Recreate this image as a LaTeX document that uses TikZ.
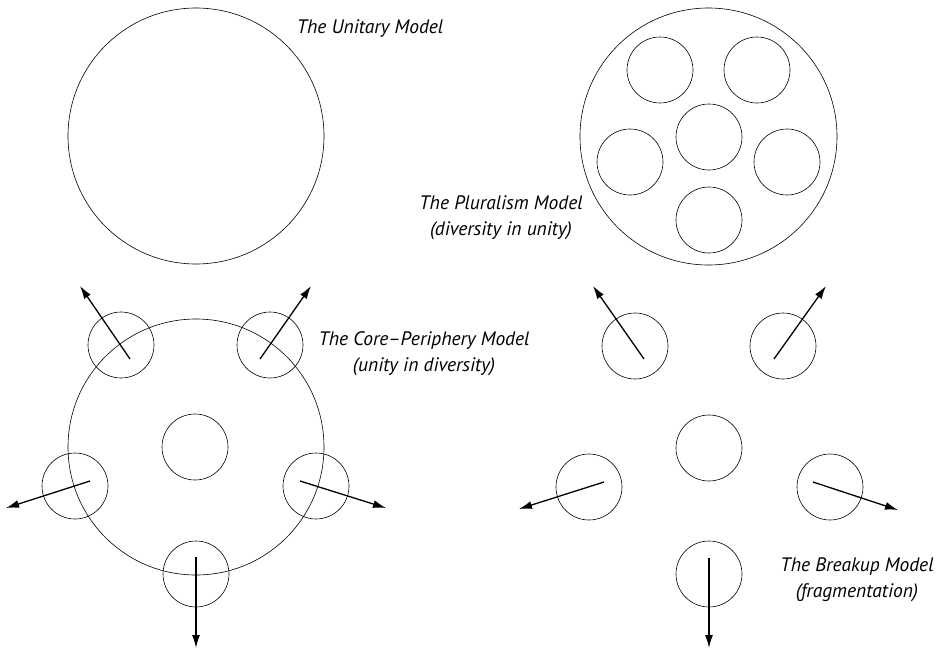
\documentclass[tikz,border=0pt]{standalone}
\usepackage{fontspec}
\setmainfont{PT Sans}
\usetikzlibrary{arrows.meta}
\tikzset{
  unit/.style={draw, line width=0.6pt, circle, inner sep=0pt, minimum size=66pt},
  big/.style={draw, line width=0.6pt, circle, inner sep=0pt, minimum size=#1},
  push/.style={line width=1.3pt, -{Latex[length=13pt,width=8pt]}},
  lbl/.style={font=\fontsize{19.5}{26}\selectfont\itshape, align=center}
}
\begin{document}
\begin{tikzpicture}[x=1pt,y=-1pt]
\useasboundingbox (0,0) rectangle (946,649);
% Unitary
\node[big=256pt] (uni) at (196,136) {};
\node[lbl] (unil) at (370,29) {The Unitary Model};
% Pluralism
\node[big=257pt] (plu) at (708.5,136.5) {};
\node[unit] (p1) at (660,70) {};
\node[unit] (p2) at (757,70) {};
\node[unit] (p3) at (709,137) {};
\node[unit] (p4) at (630,162) {};
\node[unit] (p5) at (787,162) {};
\node[unit] (p6) at (709,220) {};
\node[lbl] (plul) at (501,218) {The Pluralism Model\\(diversity in unity)};
% Core-periphery
\node[big=256pt] (core) at (196,447) {};
\node[unit] (c0) at (195,447) {};
\node[unit] (c1) at (121,345) {};
\node[unit] (c2) at (270,345) {};
\node[unit] (c3) at (75,486) {};
\node[unit] (c4) at (316,486) {};
\node[unit] (c5) at (196,574) {};
\coordinate (ca1) at (130,359); \coordinate (cb1) at (80,286);
\coordinate (ca2) at (260,359); \coordinate (cb2) at (311,286);
\coordinate (ca3) at (90,481);  \coordinate (cb3) at (6,508);
\coordinate (ca4) at (300,481); \coordinate (cb4) at (386,508);
\coordinate (ca5) at (196,557); \coordinate (cb5) at (196,648);
\foreach \i in {1,...,5} \draw[push] (ca\i) -- (cb\i);
\node[lbl] (corel) at (424,354) {The Core--Periphery Model\\(unity in diversity)};
% Breakup
\node[unit] (b0) at (709,448) {};
\node[unit] (b1) at (635,346) {};
\node[unit] (b2) at (783,346) {};
\node[unit] (b3) at (589,487) {};
\node[unit] (b4) at (830,487) {};
\node[unit] (b5) at (709,574) {};
\coordinate (ba1) at (644,359); \coordinate (bb1) at (593,286);
\coordinate (ba2) at (774,359); \coordinate (bb2) at (826,286);
\coordinate (ba3) at (604,482); \coordinate (bb3) at (519,509);
\coordinate (ba4) at (813,482); \coordinate (bb4) at (898,510);
\coordinate (ba5) at (709,558); \coordinate (bb5) at (709,648);
\foreach \i in {1,...,5} \draw[push] (ba\i) -- (bb\i);
\node[lbl] (brkl) at (857,580) {The Breakup Model\\(fragmentation)};
\end{tikzpicture}
\end{document}
